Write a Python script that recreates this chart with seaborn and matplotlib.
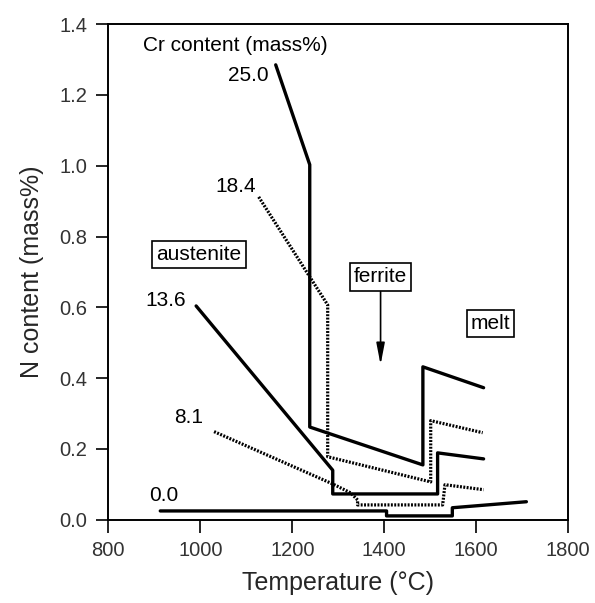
import matplotlib
matplotlib.use("Agg")
import matplotlib.pyplot as plt
import seaborn as sns
import pandas as pd

# Data (Temperature in °C, N content in mass%)
cr_250_T = [1164, 1238, 1238, 1484, 1484, 1616]
cr_250_N = [1.285, 1.003, 0.262, 0.155, 0.432, 0.373]

cr_184_T = [1127, 1277, 1277, 1501, 1501, 1614]
cr_184_N = [0.912, 0.607, 0.178, 0.107, 0.280, 0.246]

cr_136_T = [991, 1288, 1288, 1516, 1516, 1616]
cr_136_N = [0.604, 0.140, 0.073, 0.073, 0.189, 0.172]

cr_081_T = [1030, 1290, 1327, 1342, 1342, 1527, 1532, 1616]
cr_081_N = [0.249, 0.100, 0.076, 0.056, 0.042, 0.042, 0.099, 0.085]

cr_000_T = [913, 1405, 1405, 1548, 1548, 1709]
cr_000_N = [0.025, 0.025, 0.011, 0.011, 0.034, 0.051]

series_labels = ["25.0", "18.4", "13.6", "8.1", "0.0"]
label_pos_T = [1149, 1121, 969, 1006, 952]
label_pos_N = [1.254, 0.940, 0.620, 0.290, 0.070]

x_ticks = [800, 1000, 1200, 1400, 1600, 1800]
y_ticks = [0.0, 0.2, 0.4, 0.6, 0.8, 1.0, 1.2, 1.4]

sns.set_style("ticks")
plt.rcParams["font.family"] = ["Liberation Sans", "DejaVu Sans"]

fig = plt.figure(figsize=(5.95, 6.03), dpi=100)
ax = fig.add_axes([0.182, 0.138, 0.773, 0.822])

solid_kw = dict(color="black", linewidth=2.4, estimator=None, sort=False, ax=ax)
dot_kw = dict(color="black", linewidth=2.3, estimator=None, sort=False, ax=ax,
              linestyle=(0, (0.6, 0.45)))

sns.lineplot(x=cr_250_T, y=cr_250_N, **solid_kw)
sns.lineplot(x=cr_184_T, y=cr_184_N, **dot_kw)
sns.lineplot(x=cr_136_T, y=cr_136_N, **solid_kw)
sns.lineplot(x=cr_081_T, y=cr_081_N, **dot_kw)
sns.lineplot(x=cr_000_T, y=cr_000_N, **solid_kw)

ax.set_xlim(800, 1800)
ax.set_ylim(0, 1.4)
ax.set_xticks(x_ticks)
ax.set_yticks(y_ticks)
ax.set_yticklabels([f"{v:.1f}" for v in y_ticks])
ax.tick_params(axis="both", direction="out", length=9, width=1.2,
               labelsize=14.5, colors="black", pad=6)
ax.tick_params(axis="y", labelcolor="#333333")
ax.tick_params(axis="x", labelcolor="#333333")
for s in ax.spines.values():
    s.set_linewidth(1.4)
    s.set_color("black")
    s.set_visible(True)

ax.set_xlabel("Temperature (°C)", fontsize=18, labelpad=8)
ax.set_ylabel("N content (mass%)", fontsize=18, labelpad=11)

txt_kw = dict(fontsize=15, color="black")
ax.text(876, 1.34, "Cr content (mass%)", ha="left", va="center", **txt_kw)
for lab, t, n in zip(series_labels, label_pos_T, label_pos_N):
    ax.text(t, n, lab, ha="right", va="center", **txt_kw)

box = dict(boxstyle="square,pad=0.2", facecolor="white", edgecolor="black", linewidth=1.2)
ax.text(997, 0.749, "austenite", ha="center", va="center", bbox=box, **txt_kw)
ax.text(1392, 0.686, "ferrite", ha="center", va="center", bbox=box, **txt_kw)
ax.text(1631, 0.554, "melt", ha="center", va="center",
        bbox=dict(boxstyle="square,pad=0.2", facecolor="white", edgecolor="black",
                  linewidth=1.2), **txt_kw)

ax.annotate("", xy=(1392, 0.43), xytext=(1392, 0.652),
            arrowprops=dict(arrowstyle="-|>,head_length=1.3,head_width=0.25",
                            color="black", linewidth=1.2))

fig.savefig("out.png", dpi=100)
